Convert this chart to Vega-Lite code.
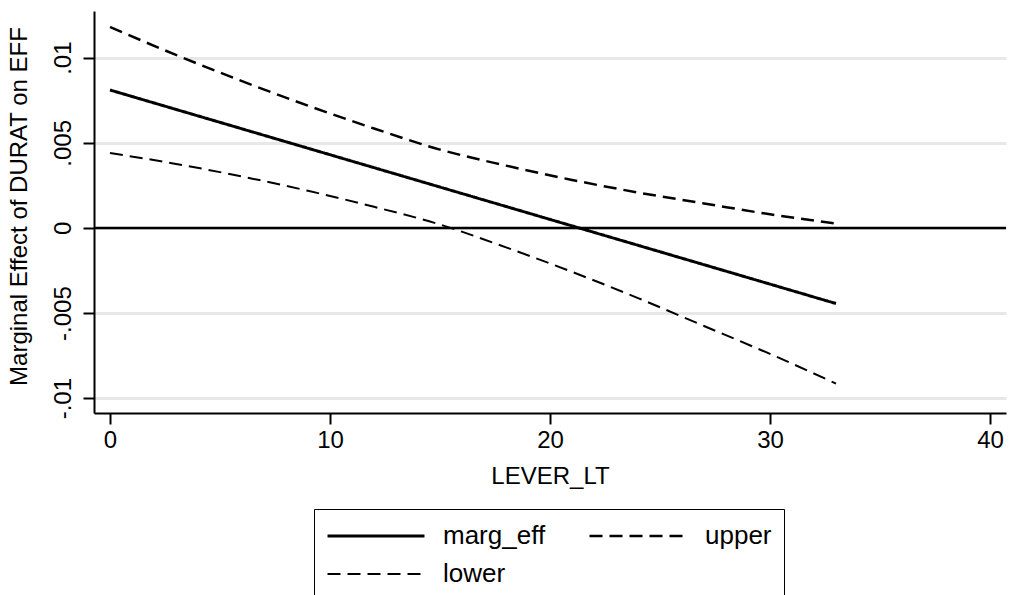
{
  "$schema": "https://vega.github.io/schema/vega-lite/v6.json",
  "autosize": {"type": "none"},
  "width": 912,
  "height": 402,
  "padding": {"left": 94, "top": 11, "right": 6, "bottom": 182},
  "background": "white",
  "config": {
    "font": "Liberation Sans",
    "view": {"stroke": null},
    "axis": {
      "domainColor": "black",
      "domainWidth": 2,
      "tickColor": "black",
      "tickWidth": 2,
      "tickSize": 11,
      "labelFont": "Liberation Sans",
      "labelFontSize": 24,
      "labelColor": "black",
      "titleFont": "Liberation Sans",
      "titleFontSize": 24,
      "titleFontWeight": "normal",
      "titleColor": "black"
    },
    "legend": {
      "orient": "none",
      "direction": "horizontal",
      "legendX": 220,
      "legendY": 498,
      "columns": 2,
      "padding": 12,
      "strokeColor": "black",
      "fillColor": "white",
      "symbolType": "stroke",
      "symbolSize": 9409,
      "symbolStrokeColor": "black",
      "clipHeight": 30,
      "rowPadding": 8,
      "columnPadding": 42,
      "labelOffset": 17,
      "labelFont": "Liberation Sans",
      "labelFontSize": 26,
      "labelColor": "black",
      "labelLimit": 300
    }
  },
  "data": {
    "values": [
      {"x": 0, "value": 0.0081, "series": "marg_eff"},
      {"x": 3, "value": 0.00696, "series": "marg_eff"},
      {"x": 6, "value": 0.00582, "series": "marg_eff"},
      {"x": 9, "value": 0.00468, "series": "marg_eff"},
      {"x": 12, "value": 0.00354, "series": "marg_eff"},
      {"x": 15, "value": 0.0024, "series": "marg_eff"},
      {"x": 18, "value": 0.00126, "series": "marg_eff"},
      {"x": 21, "value": 0.00012, "series": "marg_eff"},
      {"x": 24, "value": -0.00102, "series": "marg_eff"},
      {"x": 27, "value": -0.00216, "series": "marg_eff"},
      {"x": 30, "value": -0.0033, "series": "marg_eff"},
      {"x": 33, "value": -0.00444, "series": "marg_eff"},
      {"x": 0, "value": 0.0118, "series": "upper"},
      {"x": 3, "value": 0.01016, "series": "upper"},
      {"x": 6, "value": 0.00862, "series": "upper"},
      {"x": 9, "value": 0.00718, "series": "upper"},
      {"x": 12, "value": 0.00584, "series": "upper"},
      {"x": 15, "value": 0.0046, "series": "upper"},
      {"x": 18, "value": 0.00366, "series": "upper"},
      {"x": 21, "value": 0.00282, "series": "upper"},
      {"x": 24, "value": 0.00208, "series": "upper"},
      {"x": 27, "value": 0.00144, "series": "upper"},
      {"x": 30, "value": 0.0008, "series": "upper"},
      {"x": 33, "value": 0.00026, "series": "upper"},
      {"x": 0, "value": 0.0044, "series": "lower"},
      {"x": 3, "value": 0.00376, "series": "lower"},
      {"x": 6, "value": 0.00302, "series": "lower"},
      {"x": 9, "value": 0.00218, "series": "lower"},
      {"x": 12, "value": 0.00124, "series": "lower"},
      {"x": 15, "value": 0.0002, "series": "lower"},
      {"x": 18, "value": -0.00114, "series": "lower"},
      {"x": 21, "value": -0.00258, "series": "lower"},
      {"x": 24, "value": -0.00412, "series": "lower"},
      {"x": 27, "value": -0.00576, "series": "lower"},
      {"x": 30, "value": -0.0074, "series": "lower"},
      {"x": 33, "value": -0.00914, "series": "lower"}
    ]
  },
  "layer": [
    {
      "data": {"values": [{"zero": 0}]},
      "mark": {"type": "rule", "color": "black", "strokeWidth": 2.5},
      "encoding": {
        "y": {"field": "zero", "type": "quantitative", "scale": {"domain": [-0.01087, 0.01274], "nice": false, "zero": false}}
      }
    },
    {
      "mark": {"type": "line", "color": "black", "clip": true, "interpolate": "monotone"},
      "encoding": {
        "x": {
          "field": "x",
          "type": "quantitative",
          "title": "LEVER_LT",
          "scale": {"domain": [-0.727, 40.727], "nice": false, "zero": false},
          "axis": {"values": [0, 10, 20, 30, 40], "grid": false, "labelPadding": 4, "titlePadding": 12}
        },
        "y": {
          "field": "value",
          "type": "quantitative",
          "title": "Marginal Effect of DURAT on EFF",
          "scale": {"domain": [-0.01087, 0.01274], "nice": false, "zero": false},
          "axis": {
            "values": [-0.01, -0.005, 0, 0.005, 0.01],
            "grid": true,
            "gridColor": "#e8e8e8",
            "gridWidth": 3,
            "labelAngle": 270,
            "labelPadding": 8,
            "titlePadding": 20,
            "titleY": 195,
            "labelExpr": "datum.value == 0 ? '0' : (datum.value < 0 ? '-' : '') + replace(format(abs(datum.value), '.3~f'), '0.', '.')"
          }
        },
        "detail": {"field": "series"},
        "strokeDash": {
          "field": "series",
          "type": "nominal",
          "sort": ["marg_eff", "upper", "lower"],
          "scale": {"domain": ["marg_eff", "upper", "lower"], "range": [[1, 0], [13, 7], [13, 7]]},
          "legend": {"title": null, "values": ["marg_eff", "upper", "lower"]}
        },
        "strokeWidth": {
          "field": "series",
          "type": "nominal",
          "sort": ["marg_eff", "upper", "lower"],
          "scale": {"domain": ["marg_eff", "upper", "lower"], "range": [3, 2, 2]},
          "legend": {"title": null, "values": ["marg_eff", "upper", "lower"]}
        }
      }
    }
  ]
}
